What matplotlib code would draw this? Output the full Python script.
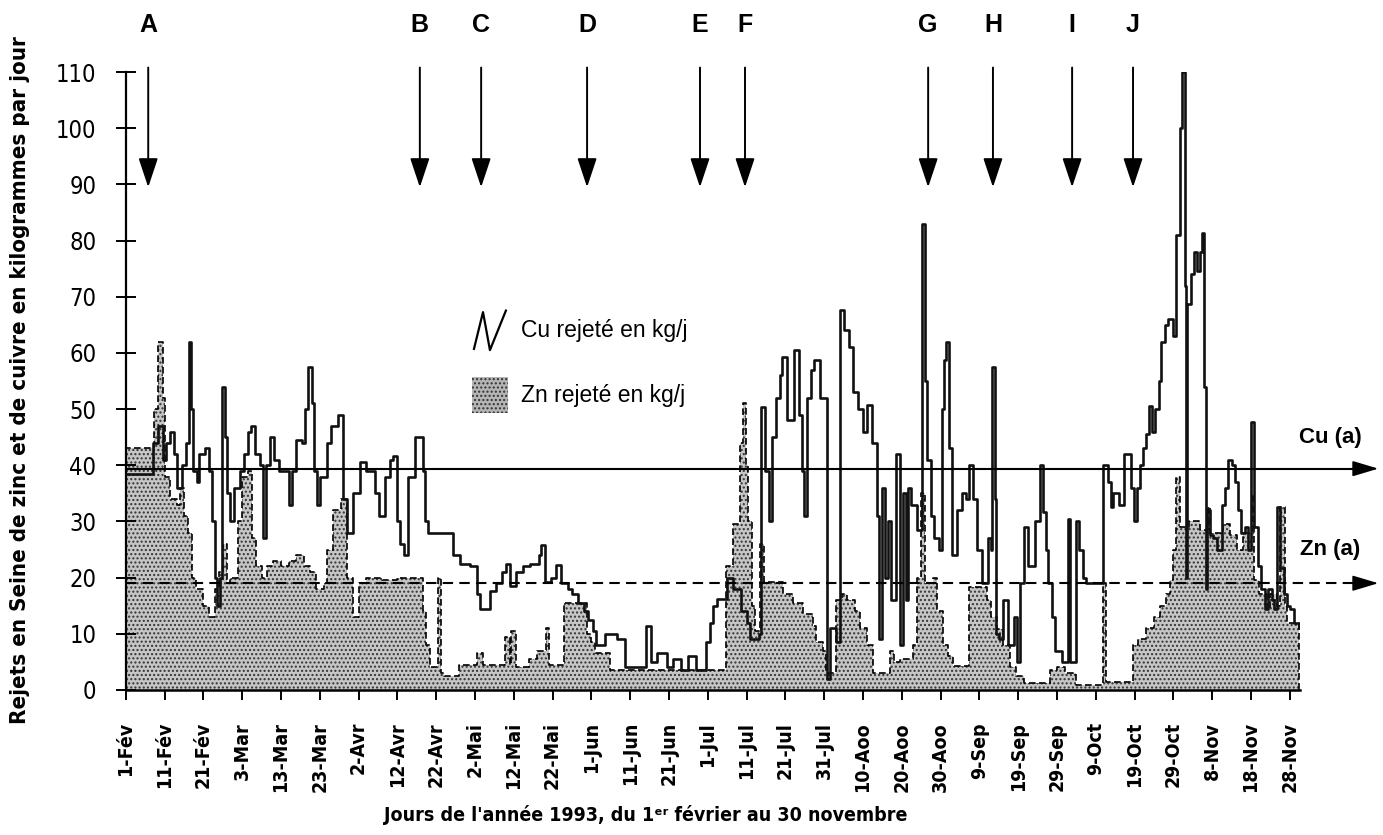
import matplotlib
matplotlib.use("Agg")
import matplotlib.pyplot as plt
import numpy as np
from matplotlib import font_manager as fm
from matplotlib.patches import Rectangle
from matplotlib.lines import Line2D

# Jours depuis le 1er fevrier 1993 (breakpoints, trace en escalier)
cu_day = [0, 7, 8.3, 9.5, 10.3, 11.3, 12.5, 13.3, 14.5, 15.5, 16.2, 16.8, 17.3, 18.3, 19, 20.5, 21.5,
          22.3, 23, 23.5, 24.2, 24.8, 25.5, 26, 27, 28, 29.5, 30.5, 31.5, 32.3, 33.2, 34.5, 35.3, 36.2,
          37.2, 38.2, 39.5, 41, 42, 42.8, 44, 45.5, 46.2, 47, 48, 48.6, 49.2, 50, 51.8, 53, 54.8, 56.1,
          57, 58.7, 60.4, 62, 64.3, 65.3, 66.8, 68, 69, 69.8, 70.8, 71.6, 72.8, 74.6, 76.5, 77.2, 78,
          84.4, 86.2, 88.7, 90.5, 91.3, 93.9, 95.5, 96.9, 98, 99, 100.7, 102.5, 104.2, 106.5, 107, 108,
          109.5, 111, 112.3, 114, 115, 116.5, 118, 119.2, 120.5, 121.3, 123.5, 126.5, 128.6, 134, 135.5,
          137, 139.4, 141, 143, 145, 147, 149.5, 150.5, 151.4, 152.3, 154.9, 156.6, 158.5, 160, 160.9,
          163.3, 163.8, 164.8, 165.8, 166.5, 167.5, 168.6, 169.2, 170.5, 172.2, 173.5, 174.3, 174.9,
          175.5, 176.5, 177.5, 179, 180.8, 181.5, 183, 184, 185, 186.5, 187.5, 188.8, 190, 191, 192.2,
          193.5, 194.2, 194.8, 195.8, 196.5, 197.2, 198.5, 199.5, 200.2, 201, 201.5, 202.5, 203.9,
          205.2, 206, 206.6, 207.5, 208.2, 209.5, 210.3, 210.9, 211.5, 212.2, 212.9, 214.2, 215.5,
          216.5, 217.2, 218.3, 219.3, 220.6, 222.2, 222.9, 223.3, 223.9, 224.3, 225, 226.2, 227.3,
          228.8, 229.6, 230.4, 231.4, 232.5, 234.4, 235.6, 236.4, 237.2, 237.8, 238.8, 239.5, 241.2,
          242.8, 243.4, 245, 245.8, 246.6, 247.5, 251.8, 253.2, 254, 254.5, 256, 257.4, 259.1, 259.8,
          260.5, 261.5, 262.2, 263, 263.6, 264.5, 265.2, 266.3, 266.8, 267.8, 268.7, 269.8, 270.8,
          271.6, 272.2, 272.9, 273.2, 273.6, 274.5, 275.3, 276, 276.8, 277.3, 278, 278.3, 278.6, 279.4,
          280.3, 281.2, 282.5, 283.2, 284, 285, 286, 286.7, 287.5, 288.4, 289.2, 290.1, 290.7, 291.8,
          292.5, 293.6, 294.5, 295.3, 296, 296.6, 297.6, 298.6, 299.4, 300, 301, 302.5]
cu_val = [38.5, 44, 47, 41, 44, 46, 42, 36, 40, 44, 62, 50, 39, 37, 42, 43, 39,
          30, 20, 15, 20, 54, 45, 35, 30, 36, 39, 42, 46, 47, 42, 40, 27, 40,
          45, 41, 39, 39, 33, 39, 44.5, 44, 50, 57.5, 51, 39, 33, 38, 44, 47, 49, 34,
          28, 35, 40.5, 39, 35, 31, 38, 41, 41.6, 30, 26, 24, 38, 45, 39, 30, 28,
          24, 22.5, 22, 17, 14.5, 17.7, 19, 21, 22.5, 18.5, 21, 22, 22.5, 24, 25.8, 19.3,
          20, 22.3, 19, 18, 17, 15.5, 14, 12.5, 10.5, 8, 10, 9, 4, 11.3, 5,
          6.5, 4, 5.5, 3.5, 6, 3.5, 8.6, 12, 15, 16.2, 20, 18, 14, 12, 9,
          10, 50.4, 39, 30, 45, 52, 56, 59.3, 48, 60.5, 49, 39, 31,
          52, 57, 58.7, 52, 2, 11, 8.6, 67.6, 64, 61, 53, 50, 46, 50.7, 44,
          31, 9, 36, 20, 30, 16, 42, 8, 35, 16, 36, 33, 28.5,
          83, 55, 41, 31, 27, 25, 50, 58.7, 62, 43, 24, 32, 35,
          34, 40, 34, 25, 19, 27, 25, 57.5, 34, 10, 9, 16, 8,
          13, 5, 19, 29, 22, 30, 40, 31.6, 25, 19, 13, 7, 5,
          30.5, 5, 30, 25, 20, 19, 40, 37, 32.5, 35, 33, 42, 36, 30,
          36, 40, 43, 45.5, 50.6, 46, 50, 55, 62, 65, 66, 63, 81,
          100, 110, 72, 20, 68.7, 74, 78, 74.5, 78, 81.3, 54, 18, 32, 27.5,
          27, 25, 33, 36, 41, 40, 37, 32, 28, 29, 25, 47.7, 29, 22,
          18, 14.5, 18, 16, 14.5, 32.5, 21.7, 17, 15, 14.5, 12, 11]

zn_day = [0, 7.3, 8.3, 9.5, 10.2, 11.5, 13.2, 14, 15, 16, 17, 18, 20, 21.5, 23, 24, 25, 26, 27, 29,
          30, 31.5, 32.5, 33.5, 35, 36.5, 38, 40, 42, 44, 46, 47.5, 49, 51, 52, 53.5, 55.5, 57, 58.5,
          60, 62, 66, 70, 73, 76.7, 77.5, 78.4, 80.5, 81.3, 82, 86, 90.5, 92, 97.8, 99, 99.3, 100.5,
          104, 106, 108.2, 109, 113, 118.8, 120, 121, 124.8, 154.8, 156.6, 158.3, 159, 159.8, 160.5,
          161.4, 162.2, 163.5, 164.5, 169.5, 172, 174.5, 177, 178, 179.8, 180.6, 183, 184.5, 186, 188,
          189.2, 191, 192.7, 197, 198, 199.5, 203, 204, 205, 206, 208, 209, 210.7, 212, 213.3, 217.2,
          222, 223, 224.5, 226, 228, 229.5, 231.4, 238.2, 240, 242, 245, 251.8, 252.6, 259.6, 261,
          263, 265, 266.5, 268, 269, 270, 270.8, 271.7, 274, 276.8, 279, 279.5, 282.8, 284.5, 286.3,
          288, 290.3, 290.9, 292, 294, 295, 296.6, 297.6, 298.8, 299.4, 302.5]
zn_val = [43, 50, 62, 52, 38, 34, 33, 36, 31, 28, 20, 18, 15, 13, 18, 21, 26, 19, 20, 30,
          38, 39, 27, 22, 20, 22, 23, 22, 23, 24, 22, 21, 18, 19, 25, 32, 34, 20, 13,
          19, 20, 19.5, 20, 20, 14, 8, 4, 20, 3, 2.5, 4.5, 6.5, 4.5, 9.5, 4.5, 10.5, 4,
          5.5, 7, 11, 4.5, 15.5, 10, 8.5, 6.5, 3.5, 22, 29.5, 44, 51, 40, 30,
          15, 10.5, 26, 19.3, 17, 15.5, 13.5, 11.4, 8.6, 7, 3, 16, 17, 16, 14,
          11, 8, 3, 7, 5, 5.5, 8, 20, 35, 19, 20, 14, 8, 6, 4.3, 18.3,
          16, 13, 10.8, 8, 4, 2.5, 1.2, 3.5, 4, 3, 0.8, 19, 1.5, 8, 9,
          11, 13, 15, 17, 19.5, 25, 38, 29, 30, 28.5, 32.5, 28, 29.6, 27.5, 25,
          28, 34.7, 19.5, 17, 14.5, 17, 15, 32.5, 15, 12, 11]

cu_ref = 39.4
zn_ref = 19
event_days = [5.8, 75.8, 91.6, 118.9, 148, 159.6, 206.8, 223.5, 243.9, 259.6]
event_labels = ["A", "B", "C", "D", "E", "F", "G", "H", "I", "J"]

tick_days = list(range(0, 301, 10))
tick_labels = ["1-Fév", "11-Fév", "21-Fév", "3-Mar", "13-Mar", "23-Mar", "2-Avr", "12-Avr", "22-Avr",
               "2-Mai", "12-Mai", "22-Mai", "1-Jun", "11-Jun", "21-Jun", "1-Jul", "11-Jul", "21-Jul",
               "31-Jul", "10-Aoo", "20-Aoo", "30-Aoo", "9-Sep", "19-Sep", "29-Sep", "9-Oct", "19-Oct",
               "29-Oct", "8-Nov", "18-Nov", "28-Nov"]

# police etroite si disponible (Helvetica Condensed dans l'original)
cond_name, cond_stretch = "Liberation Sans", "normal"
for f in fm.fontManager.ttflist:
    if ("Narrow" in f.name or "Condensed" in f.name
            or f.stretch in ("condensed", "semi-condensed", "extra-condensed")) \
            and "Mono" not in f.name and "Serif" not in f.name:
        cond_name, cond_stretch = f.name, f.stretch
        break
cond = dict(family=[cond_name, "DejaVu Sans"], stretch=cond_stretch)
helv = dict(family=["Liberation Sans", "DejaVu Sans"])

plt.rcParams["hatch.linewidth"] = 1.0

fig = plt.figure(figsize=(13.83, 8.35), dpi=100)
ax = fig.add_axes([0.0909, 0.1737, 0.849, 0.740])

# zinc : surface pointillee + contour en tirets
zx = np.r_[zn_day[0], zn_day, zn_day[-1]]
zy = np.r_[0, zn_val, 0]
ax.fill_between(zn_day, zn_val, step="post", facecolor="#c6c6c6", edgecolor="#333333",
                hatch="....", linewidth=0, zorder=1)
ax.plot(zx, zy, drawstyle="steps-post", color="black", lw=1.2, ls=(0, (4, 2)), zorder=2)

# cuivre
ax.plot(cu_day, cu_val, drawstyle="steps-post", color="#111111", lw=1.9, zorder=3)

# valeurs de reference (a)
ax.plot([0, 318], [cu_ref, cu_ref], color="black", lw=1.5, clip_on=False, zorder=4)
ax.plot([0, 318], [zn_ref, zn_ref], color="black", lw=1.5, ls=(0, (5, 3)), clip_on=False, zorder=4)
for yv in (cu_ref, zn_ref):
    ax.annotate("", xy=(322.8, yv), xytext=(316, yv), annotation_clip=False,
                arrowprops=dict(arrowstyle="-|>,head_length=1.0,head_width=0.3", color="black",
                                lw=1.2, mutation_scale=16, shrinkA=0, shrinkB=0))
ax.text(310.5, 45, "Cu (a)", ha="center", va="center", fontsize=16, fontweight="bold",
        clip_on=False, **helv)
ax.text(310.5, 25, "Zn (a)", ha="center", va="center", fontsize=16, fontweight="bold",
        clip_on=False, **helv)

# evenements A a J
for d, lab in zip(event_days, event_labels):
    ax.annotate("", xy=(d, 89.5), xytext=(d, 110.8), annotation_clip=False,
                arrowprops=dict(arrowstyle="-|>,head_length=0.9,head_width=0.3", color="black",
                                lw=1.4, mutation_scale=20, shrinkA=0, shrinkB=0))
    ax.text(d, 118.3, lab, ha="center", va="center", fontsize=18, fontweight="bold",
            clip_on=False, **helv)

# legende dessinee dans le graphique
ax.add_line(Line2D([0.2966, 0.3043, 0.3102, 0.3238], [0.552, 0.6115, 0.550, 0.6140],
                   transform=ax.transAxes, color="black", lw=1.6))
ax.add_patch(Rectangle((0.2949, 0.4482), 0.0307, 0.0583, transform=ax.transAxes,
                       facecolor="#b5b5b5", edgecolor="#333333", hatch="....", lw=0))
ax.text(0.3366, 0.581, "Cu rejeté en kg/j", transform=ax.transAxes, fontsize=16.5,
        va="center", ha="left", **helv)
ax.text(0.3366, 0.4773, "Zn rejeté en kg/j", transform=ax.transAxes, fontsize=16.5,
        va="center", ha="left", **helv)

ax.set_xlim(0, 302.6)
ax.set_ylim(0, 110)
ax.spines["top"].set_visible(False)
ax.spines["right"].set_visible(False)
ax.spines["left"].set_linewidth(1.6)
ax.spines["bottom"].set_linewidth(1.8)
ax.set_yticks(range(0, 111, 10))
ax.set_xticks(tick_days)
ax.set_xticklabels(tick_labels, rotation=90, fontsize=14, fontweight="bold", va="top", **cond)
for t in ax.get_yticklabels():
    t.set_fontsize(17)
    t.set_family(cond["family"])
    t.set_stretch(cond_stretch)
ax.tick_params(axis="y", direction="inout", length=14.5, width=1.4, pad=14)
ax.tick_params(axis="x", direction="out", length=7, width=1.4, pad=16)

fig.text(0.0145, 0.545, "Rejets en Seine de zinc et de cuivre en kilogrammes par jour",
         rotation=90, ha="center", va="center", fontsize=16, fontweight="bold", **cond)
fig.text(0.467, 0.024, "Jours de l'année 1993, du 1ᵉʳ février au 30 novembre",
         ha="center", va="center", fontsize=14, fontweight="bold", **cond)

fig.savefig("out.png", dpi=100, facecolor="white")
